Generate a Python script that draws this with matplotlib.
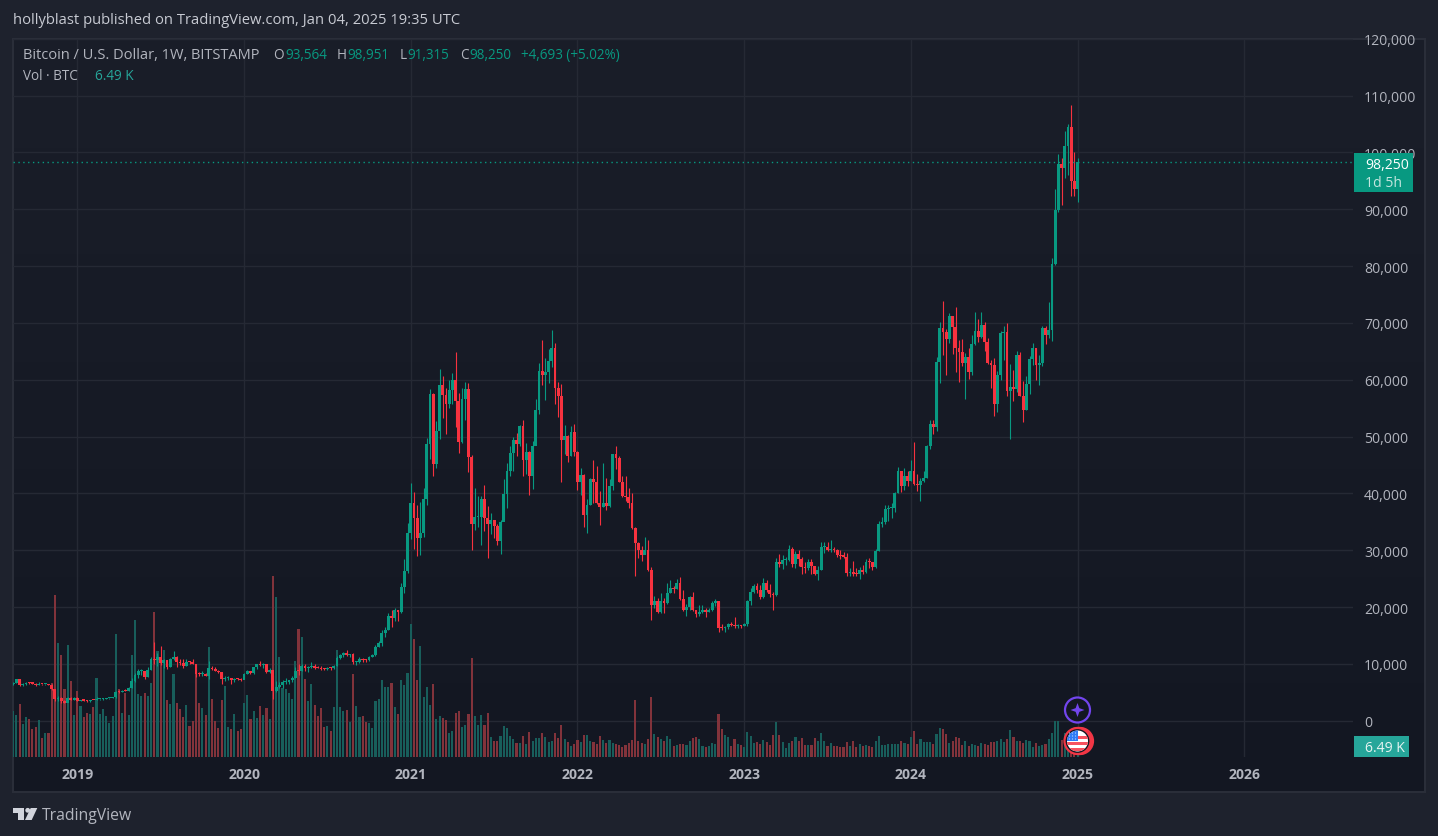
import numpy as np
import matplotlib
matplotlib.use("Agg")
import matplotlib.pyplot as plt
from matplotlib.patches import Circle, Polygon, Rectangle

# weekly candles BTC/USD, first bar = week of 2018-08-20
first_open = 6400
closes = [
    6700,7300,6250,6500,6700,6600,6550,6300,6400,6380,
    6400,6350,5550,3900,4050,3500,3200,4000,3700,4050,
    3550,3620,3560,3420,3640,3620,3800,3810,3900,3980,
    3990,4100,5060,5040,5280,5260,5750,7000,8000,8730,
    8770,7650,8850,10800,10750,11300,10200,10650,9480,10820,
    11300,10300,10130,9600,10400,10350,10020,8200,8150,8300,
    7950,9200,9150,8800,8500,7300,7550,7560,7100,7340,
    7300,7200,8180,8700,8330,9370,9900,9880,9950,8550,
    8900,5200,5900,6300,6850,6900,7100,7500,8800,8700,
    9700,9200,9450,9660,9350,9300,9130,9070,9290,9200,
    9690,11050,11600,11850,11650,11700,10250,10330,10950,10750,
    10670,11300,11500,13000,13750,15500,16000,18500,18000,19400,
    19100,23450,26300,33100,38300,35600,32100,33100,39000,48700,
    57500,45100,51000,59000,57400,55700,58200,60000,56200,49000,
    56600,58400,46400,34700,35800,35900,39000,35700,34600,35400,
    34200,31700,35000,39900,43900,47100,49400,48700,51900,45900,
    47300,43000,48400,54700,61500,60900,61300,63300,65600,58600,
    57100,49400,50100,46600,50800,47300,42000,43200,36200,37900,
    42500,42000,38300,37600,38400,37800,41300,46900,46200,42000,
    39500,39400,38400,33900,31200,30100,29200,30000,26500,20400,
    21100,19200,21000,20800,22500,23400,23200,24300,21500,19500,
    20000,21800,19400,18700,19100,19400,19200,19500,20700,21000,
    16300,16250,16500,17000,16900,16750,16850,16600,16950,21000,
    22700,23750,23000,21800,24300,23000,22300,22100,28000,27500,
    28200,28300,30300,27500,29300,28400,27000,26800,28000,27200,
    25800,26500,30500,30600,30000,30250,30100,29100,29000,28900,
    26000,26100,25900,25800,26500,26250,27950,27900,27100,29900,
    34600,35000,37200,37400,37500,40000,44000,41300,43100,42200,
    44000,41600,41500,42200,42700,48300,52200,51700,63100,69100,
    68400,67100,71200,69300,65600,64900,62900,64000,61400,66300,
    68600,67600,69600,66600,63000,62600,55700,60800,68300,68350,
    58100,58700,58400,64300,57200,54700,59200,63700,65600,62600,
    63000,69100,67800,68800,80400,89900,98000,97300,101200,104400,
    95000,93564,98250,
]
highs = [
    6900,7420,7400,6580,6800,6800,6700,6640,6780,6500,
    6540,6480,6400,5650,4300,4250,3600,4150,4150,4100,
    4100,3700,3640,3600,3680,3720,4200,3900,3950,4050,
    4050,4150,5320,5470,5350,5650,5900,7500,8400,9100,
    9100,8800,9400,11200,13800,12000,13100,10800,10200,11100,
    12300,11400,10950,10800,10900,10480,10900,10050,8500,8750,
    8400,10550,9550,9450,9000,8500,7800,7870,7450,7500,
    7450,7500,8450,9000,8800,9500,9950,10500,10200,9980,
    9200,8000,6950,6800,7200,7450,7200,7800,9450,10050,
    9950,9950,9600,10400,10000,9550,9600,9280,9450,9400,
    9860,11400,11800,12100,12450,11750,11950,10500,11150,11000,
    10950,11470,11750,13250,14100,15950,16500,18900,19500,19900,
    19400,24300,28400,34800,41900,40200,37900,38500,41000,49700,
    58400,57700,52800,61900,60700,58600,60000,61200,64800,57600,
    58500,59600,59500,46700,40900,39500,39600,41400,37800,36600,
    35200,34700,35400,42600,45300,48400,50000,50600,52000,53000,
    48800,47400,49300,56600,63000,67000,63800,65400,68800,66500,
    59600,59200,52000,50300,51800,52200,47500,44400,43500,39000,
    42700,45900,44900,40400,45300,42700,42500,46900,48300,46500,
    43100,43000,40900,40000,34100,31400,30700,32400,31800,27000,
    21900,21600,22400,21600,24300,24700,23700,25000,25300,23000,
    20600,22000,22700,19400,20400,20400,19900,19800,21100,21500,
    21000,17000,16600,17200,17400,18300,17050,16900,17200,21200,
    23400,24000,24200,23800,25200,24700,24000,22700,28600,29400,
    29200,28800,31000,30500,29900,30100,28800,27900,28500,28500,
    27200,27200,31400,31400,31500,31800,30500,30300,30000,29700,
    29600,26800,28100,26800,27000,27400,28500,28600,28000,30300,
    35100,35900,38000,38000,38400,40300,44700,44000,44400,44000,
    45900,49000,43400,42800,44000,48600,52900,52900,64000,70200,
    73800,69000,71700,71200,72800,67000,67200,64700,65600,67800,
    72000,70700,72000,70200,67400,63400,63800,61500,68500,69500,
    70000,62800,61800,65100,64900,59700,60600,64100,66500,65600,
    64400,69500,69400,73600,81500,93500,99700,99000,103700,105000,
    108400,100000,98951,
]
lows = [
    6350,6700,6200,6100,6300,6400,6450,6150,6300,6350,
    6250,6250,5400,3500,3550,3100,3200,3250,3600,3650,
    3500,3520,3500,3380,3370,3580,3600,3730,3700,3850,
    3900,3950,4080,4950,5030,5150,5150,5700,6800,7500,
    8000,7400,7650,8900,9900,9700,9800,9300,9100,9400,
    10600,9500,9850,9350,9600,10000,9900,7700,7900,7800,
    7800,7300,8900,8700,8400,6550,7000,7250,6500,6850,
    7100,7000,7300,8250,8250,8300,9150,9700,9350,8400,
    8400,3850,5000,5700,5800,6500,6500,6750,7550,8100,
    8800,8700,8650,9350,9100,9200,8900,8950,8950,8950,
    9150,9600,10900,11200,11350,11150,9900,9880,10200,10300,
    10400,10500,11250,11400,12900,13200,14800,16000,16500,17600,
    17600,19000,22400,26000,32000,30300,29000,29200,32300,38000,
    46000,43100,44500,49500,53300,50400,55000,55700,51700,47100,
    48800,52900,43800,30100,33500,34100,31000,33400,28600,32800,
    32100,31000,29300,35300,37400,43000,43900,46600,48400,43100,
    43400,39700,40700,54000,54000,59100,56400,59500,62300,55700,
    53400,42000,46900,45600,46500,46600,40600,39700,34100,33000,
    37900,38400,38100,34400,37600,37100,37600,40600,44300,42000,
    39300,38700,37400,33700,25400,28700,28100,29300,26400,17700,
    19900,19000,19000,19000,20600,22400,22500,23100,21300,19300,
    18500,19500,19300,18200,18500,18900,18200,19200,19300,20200,
    15700,15900,15600,16200,16600,16400,16400,16400,16600,16700,
    20300,22400,22500,21400,21600,22700,21700,19500,21900,27000,
    26700,27400,28100,27100,26900,27200,25900,26000,26600,25800,
    25700,24800,26500,29500,29800,29700,29700,28800,28500,28700,
    25500,25400,25400,25400,24900,25900,26000,26900,26600,26900,
    29800,34100,34700,35100,35600,36800,40000,40200,40600,41300,
    42200,41400,40500,38600,42000,42700,47800,50500,51000,59500,
    64400,60800,66500,64600,61400,59600,62400,56600,60100,60800,
    66200,66700,67400,65000,62800,58500,53700,54300,59900,63500,
    57200,49500,56300,57900,57200,52600,54700,57500,62600,60000,
    59000,62500,66300,67400,66900,80200,89500,90800,95500,96000,
    92300,92400,91315,
]
# volume in thousands of BTC
volumes = [
    27.0,24.8,31.1,19.3,23.8,22.2,16.3,17.9,21.9,11.0,
    14.0,14.0,43.9,95.5,67.1,60.0,40.4,65.9,44.7,24.6,
    39.0,29.9,23.6,26.2,25.2,29.3,46.5,25.2,28.1,24.2,
    20.3,24.2,72.4,40.0,26.2,37.6,24.6,60.0,80.7,37.0,
    36.0,38.0,36.0,43.5,85.6,62.6,58.7,63.2,33.5,31.1,
    48.8,32.1,28.1,23.6,30.5,18.3,21.3,48.8,31.7,28.7,
    24.6,64.6,34.1,21.3,16.9,33.5,41.9,17.7,16.3,25.2,
    15.4,16.3,32.1,36.6,22.2,27.2,23.2,30.1,24.6,28.7,
    22.6,106.9,94.5,59.1,40.9,40.0,38.0,34.1,56.7,75.4,
    70.5,45.9,32.9,42.9,30.5,24.2,28.7,17.7,18.3,15.4,
    29.3,63.2,29.3,27.2,27.8,20.7,48.8,30.1,23.6,24.2,
    20.7,19.9,17.3,32.9,34.1,45.3,41.1,41.1,43.5,29.3,
    25.2,45.3,42.3,49.4,78.3,69.5,45.3,65.4,35.2,41.1,
    30.5,42.9,22.2,24.0,22.8,21.7,14.0,15.2,25.8,27.0,
    17.5,18.7,25.2,58.3,24.0,18.7,24.6,18.7,25.8,11.6,
    9.3,9.3,12.2,18.1,16.9,12.2,10.4,8.1,8.1,12.2,
    7.5,14.6,9.3,11.0,11.0,14.0,11.6,8.7,9.3,14.0,
    11.0,18.7,10.4,8.7,6.3,7.5,9.8,8.7,12.8,12.8,
    9.3,8.7,7.5,12.2,9.8,8.1,9.8,8.1,7.5,6.9,
    5.7,6.9,8.1,9.8,33.5,9.3,8.1,7.5,10.4,35.2,
    13.4,11.6,10.4,9.3,12.2,10.4,6.3,6.9,7.5,7.5,
    6.9,9.3,11.0,11.6,10.4,6.3,5.7,6.3,8.1,7.5,
    25.2,16.3,12.8,11.6,6.5,10.6,7.7,7.1,5.9,14.8,
    12.4,8.3,8.9,7.7,10.0,8.9,7.1,13.0,20.7,13.0,
    8.9,5.3,8.3,9.4,11.8,9.4,11.2,7.1,7.1,7.1,
    11.2,9.4,14.2,9.4,6.5,8.3,6.5,6.5,5.9,5.9,
    8.9,6.5,9.4,5.9,7.7,6.5,7.1,6.5,5.9,9.4,
    12.4,7.1,7.1,7.7,7.7,7.7,7.7,9.4,8.3,7.7,
    11.8,15.4,7.7,10.6,8.9,8.9,8.9,7.7,13.6,17.1,
    16.5,13.6,8.3,9.4,11.8,11.2,7.1,9.4,6.5,7.7,
    7.1,6.5,8.3,7.7,7.1,8.9,8.9,9.4,10.6,8.9,
    10.6,15.9,11.8,9.4,9.4,8.3,10.0,9.4,5.9,8.3,
    6.5,7.1,7.7,10.6,14.2,21.5,21.1,9.8,14.4,13.4,
    9.4,8.5,6.49,
]
year_bars = [20, 72, 124, 176, 228, 280, 332, 384]
year_labels = ["2019", "2020", "2021", "2022", "2023", "2024", "2025", "2026"]
price_ticks = [0, 10000, 20000, 30000, 40000, 50000, 60000, 70000, 80000,
               90000, 100000, 110000, 120000]

UP, DOWN = "#089981", "#F7323F"
VOL_UP, VOL_DOWN = "#185E5B", "#82333B"
TXT = "#B2B5BE"
FONT = "Open Sans"
W, H = 1438, 837

plt.rcParams["font.family"] = [FONT, "DejaVu Sans"]

opens = np.array([first_open] + closes[:-1], dtype=float)
closes = np.array(closes, dtype=float)
highs = np.array(highs, dtype=float)
lows = np.array(lows, dtype=float)
volumes = np.array(volumes)
x = np.arange(len(closes))
rising = closes >= opens

fig = plt.figure(figsize=(W / 100, H / 100), dpi=100, facecolor="#1E222D")


def px(size):
    return size * 0.72


# panel background with its vertical fade
bg = fig.add_axes([0, 0, 1, 1], zorder=0)
bg.set_xlim(0, W)
bg.set_ylim(H, 0)
bg.axis("off")
fade = np.linspace(0, 1, 256)[:, None, None]
top, bottom = np.array([0x1A, 0x1E, 0x29]) / 255, np.array([0x13, 0x17, 0x22]) / 255
bg.imshow(top + (bottom - top) * fade, extent=(13, 1425, 793, 40), aspect="auto")
bg.set_xlim(0, W)
bg.set_ylim(H, 0)
bg.add_patch(Rectangle((13, 40), 1412, 753, fill=False, ec="#2A2E39", lw=1.5))

# three stacked axes so the grid stays behind the volume and candles on top
rect = [13 / W, 1 - 758 / H, (1353 - 13) / W, (758 - 39.8) / H]
step = 3.206
xlim = (-(0.2) / step, (1353 - 13.2) / step)
price_lim = (-(758 - 721.8) / 0.005673, 120000)

ax = fig.add_axes(rect, zorder=1, facecolor="none")
ax.set_xlim(*xlim)
ax.set_ylim(*price_lim)
ax.yaxis.tick_right()
ax.set_yticks(price_ticks)
ax.set_yticklabels([f"{v:,}" for v in price_ticks])
ax.set_xticks(year_bars)
ax.set_xticklabels(year_labels, fontweight="bold")
ax.tick_params(axis="y", length=0, pad=8, labelsize=px(14), labelcolor=TXT)
ax.tick_params(axis="x", length=0, pad=7, labelsize=px(14), labelcolor=TXT)
ax.grid(color="#252934", lw=1)
for sp in ax.spines.values():
    sp.set_visible(False)

ax_vol = fig.add_axes(rect, zorder=2, facecolor="none")
ax_vol.set_xlim(*xlim)
ax_vol.set_ylim(0, 718 / 1.695)
ax_vol.axis("off")
ax_vol.bar(x, volumes, width=0.66, linewidth=0,
           color=[VOL_UP if r else VOL_DOWN for r in rising])

ax_c = fig.add_axes(rect, zorder=3, facecolor="none")
ax_c.set_xlim(*xlim)
ax_c.set_ylim(*price_lim)
ax_c.axis("off")
colors = [UP if r else DOWN for r in rising]
ax_c.vlines(x, lows, highs, colors=colors, lw=0.8)
body_low = np.minimum(opens, closes)
body_h = np.maximum(np.abs(closes - opens), 180)
ax_c.bar(x, body_h, bottom=body_low, width=0.88, color=colors, linewidth=0)
ax_c.axhline(closes[-1], color=UP, lw=1.0, ls=(0, (1, 2.5)))

# texts, badges and icons in pixel coordinates
ov = fig.add_axes([0, 0, 1, 1], zorder=4, facecolor="none")
ov.set_xlim(0, W)
ov.set_ylim(H, 0)
ov.axis("off")


def label(px_x, px_y, s, color=TXT, size=13.5, **kw):
    ov.text(px_x, px_y, s, color=color, fontsize=px(size), va="center", **kw)


label(13, 20, "hollyblast published on TradingView.com, Jan 04, 2025 19:35 UTC",
      color="#C8CBD3", size=14.7)
label(23, 55, "Bitcoin / U.S. Dollar, 1W, BITSTAMP", size=14.6)
for lx, s, c in [(273, "O", TXT), (285, "93,564", UP), (337, "H", TXT), (347, "98,951", UP),
                 (400, "L", TXT), (407, "91,315", UP), (460, "C", TXT), (469, "98,250", UP),
                 (521, "+4,693 (+5.02%)", UP)]:
    label(lx, 55, s, color=c)
label(23, 76, "Vol · BTC")
label(95, 76, "6.49 K", color="#26A69A")

ov.add_patch(Rectangle((1354, 154), 59, 39, color="#089981", lw=0))
label(1365, 165, "98,250", color="white", size=14)
label(1365, 183, "1d 5h", color="#C4E6DF", size=14)
ov.add_patch(Rectangle((1354, 737), 55, 21, color="#26A69A", lw=0))
label(1365, 749, "6.49 K", color="#E6F4F2", size=14)

# purple star marker
ov.add_patch(Circle((1077.5, 711), 12.5, fc="#131722", ec="#7245EE", lw=1.6))
star_r, star_i = 7.0, 2.6
star = []
for k in range(8):
    a = k * np.pi / 4
    r = star_r if k % 2 == 0 else star_i
    star.append((1077.5 + r * np.sin(a), 711 - r * np.cos(a)))
ov.add_patch(Polygon(star, color="#7245EE", lw=0))

# US flag marker with its stacked red rings
for dx in (2.5, 1.2, 0):
    ov.add_patch(Circle((1077.5 + dx, 742), 13, fc="#131722", ec="#F23645", lw=1.6))
clip = Circle((1077.5, 742), 10.5, transform=ov.transData)
field = ov.add_patch(Rectangle((1066, 731), 24, 23, color="#FFFFFF", lw=0))
field.set_clip_path(clip)
for yy, hh in [(736.5, 3), (742.5, 3), (748.5, 3)]:
    s = ov.add_patch(Rectangle((1066, yy), 24, hh, color="#F7525F", lw=0))
    s.set_clip_path(clip)
canton = ov.add_patch(Rectangle((1066, 731), 12, 11, color="#2E7CF6", lw=0))
canton.set_clip_path(clip)
for cx in (1069.5, 1072.5, 1075.5):
    for cy in (734, 737, 740):
        ov.add_patch(Circle((cx, cy), 0.6, color="#BBD6FF", lw=0))

# footer logo and wordmark
logo = "#D1D4DC"
ov.add_patch(Rectangle((13.3, 809), 10.7, 5, color=logo, lw=0))
ov.add_patch(Rectangle((18.3, 809), 5.7, 12, color=logo, lw=0))
ov.add_patch(Circle((27.7, 811.3), 2.4, color=logo, lw=0))
ov.add_patch(Polygon([(30.7, 809), (37.3, 809), (31.7, 821), (25, 821)], color=logo, lw=0))
label(42, 816, "TradingView", color=TXT, size=15.7)

fig.savefig("out.png", dpi=100, facecolor=fig.get_facecolor())
